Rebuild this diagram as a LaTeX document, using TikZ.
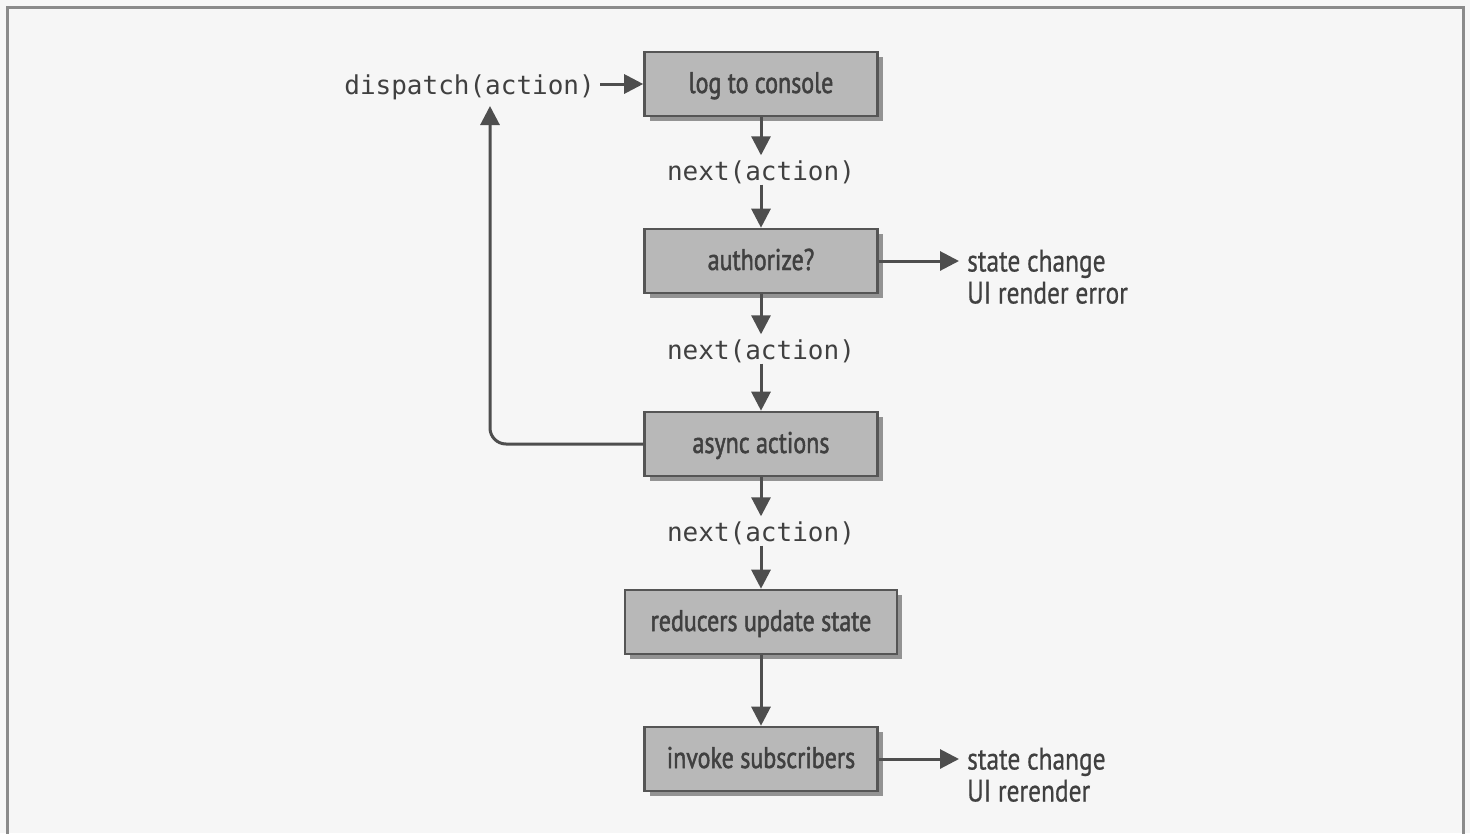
\documentclass[tikz,border=0pt]{standalone}
\usepackage{fontspec}
\setmainfont{PT Sans}
\newfontfamily\boxfont[FakeStretch=0.8,FakeBold=1.6]{PT Sans}
\newfontfamily\sidefont[FakeStretch=0.82,FakeBold=0.6]{PT Sans}
\newfontfamily\codefont{DejaVu Sans Mono}
\usetikzlibrary{arrows.meta,shadows}
\definecolor{bg}{HTML}{F6F6F6}
\definecolor{frame}{HTML}{8A8A8A}
\definecolor{boxfill}{HTML}{B8B8B8}
\definecolor{boxline}{HTML}{555555}
\definecolor{arr}{HTML}{4E4E4E}
\definecolor{txt}{HTML}{404040}
\tikzset{
  stepbox/.style={draw=boxline, line width=2.6pt, fill=boxfill, minimum width=233pt,
    minimum height=64pt, inner sep=0pt, text=txt, text height=22pt, text depth=4pt,
    font=\boxfont\fontsize{30}{32}\selectfont,
    drop shadow={shadow xshift=5pt, shadow yshift=-5pt, fill=black, opacity=0.4}},
  codelabel/.style={inner sep=2pt, text height=22.5pt, text depth=2.5pt, text=txt,
    font=\codefont\fontsize{26}{28}\selectfont},
  sidelabel/.style={inner sep=0pt, anchor=west, text height=24pt, text depth=3pt, text=txt,
    font=\sidefont\fontsize{31}{33}\selectfont},
  flow/.style={draw=arr, line width=3pt, -{Triangle[length=19pt,width=19pt]}},
}
\begin{document}
\begin{tikzpicture}[x=1pt,y=-1pt]
\fill[bg] (0,0) rectangle (1470,833);
\useasboundingbox (0,0) rectangle (1470,833);
\draw[frame, line width=3pt] (7,840) -- (7,7) -- (1463,7) -- (1463,840);

\node[stepbox] (log) at (761,84) {log to console};
\node[stepbox] (auth) at (761,261) {authorize?};
\node[stepbox] (async) at (761,444) {async actions};
\node[stepbox, minimum width=272pt] (red) at (761,622) {reducers update state};
\node[stepbox] (inv) at (761,759) {invoke subscribers};

\node[codelabel, anchor=east] (disp) at (597,84) {dispatch(action)};
\node[codelabel] (n1) at (761,170) {next(action)};
\node[codelabel] (n2) at (761,349) {next(action)};
\node[codelabel] (n3) at (761,531) {next(action)};

\node[sidelabel] (s1) at (967,261) {state change};
\node[sidelabel] (s1b) at (967,293) {UI render error};
\node[sidelabel] (s2) at (967,759) {state change};
\node[sidelabel] (s2b) at (967,791) {UI rerender};

\coordinate (up) at (490,106);

\draw[flow, shorten <=3pt] (disp.east) -- (log.west);
\draw[flow] (log.south) -- (n1.north);
\draw[flow] (n1.south) -- (auth.north);
\draw[flow] (auth.south) -- (n2.north);
\draw[flow] (n2.south) -- (async.north);
\draw[flow] (async.south) -- (n3.north);
\draw[flow] (n3.south) -- (red.north);
\draw[flow] (red.south) -- (inv.north);
\draw[flow, shorten >=8pt] (auth.east) -- (s1.west);
\draw[flow, shorten >=8pt] (inv.east) -- (s2.west);
\draw[flow, rounded corners=16pt] (async.west) -| (up);
\end{tikzpicture}
\end{document}
